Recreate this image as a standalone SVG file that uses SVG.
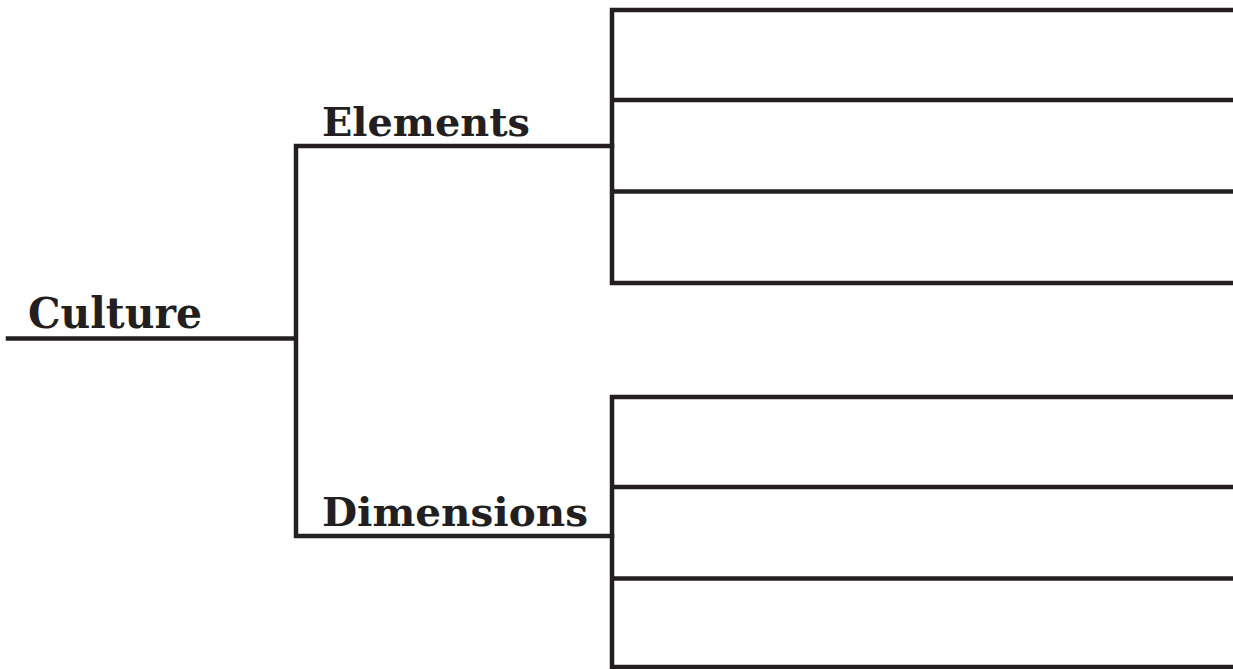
<svg xmlns="http://www.w3.org/2000/svg" width="1233" height="669" viewBox="0 0 1233 669">
<style>
.ln{stroke:#231f20;stroke-width:4.5;fill:none;stroke-linecap:square}
.lbl{font-family:"DejaVu Serif","Liberation Serif",serif;font-weight:bold;fill:#231f20}
</style>
<rect width="1233" height="669" fill="#ffffff"/>
<g id="connectors">
<path class="ln" d="M8 338.5H296M296 146V536M296 146H612M296 536H612"/>
</g>
<g id="culture">
<text class="lbl" x="28" y="328" font-size="42" textLength="174" lengthAdjust="spacingAndGlyphs">Culture</text>
</g>
<g id="elements">
<text class="lbl" x="322" y="136" font-size="39" textLength="208" lengthAdjust="spacingAndGlyphs">Elements</text>
<path class="ln" d="M612 10V283M612 10H1233M612 100H1233M612 191.5H1233M612 283H1233"/>
</g>
<g id="dimensions">
<text class="lbl" x="322" y="526" font-size="39" textLength="266" lengthAdjust="spacingAndGlyphs">Dimensions</text>
<path class="ln" d="M612 397V667M612 397H1233M612 487H1233M612 578.5H1233M612 667H1233"/>
</g>
</svg>
